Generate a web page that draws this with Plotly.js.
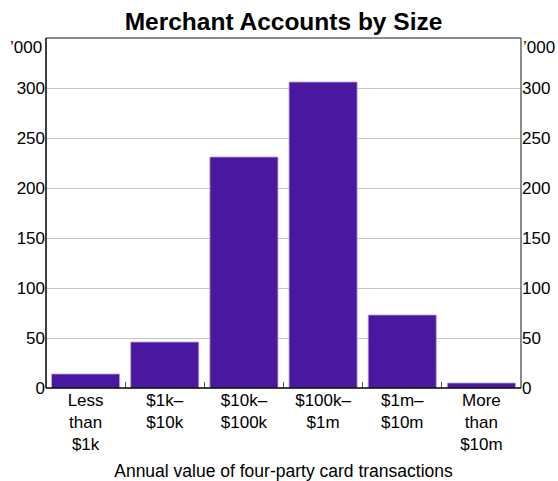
<!DOCTYPE html>
<html>
<head>
<meta charset="utf-8">
<script src="https://cdn.plot.ly/plotly-3.0.1.min.js"></script>
<style>html,body{margin:0;padding:0;background:#fff;}#chart{width:558px;height:481px;}</style>
</head>
<body>
<div id="chart"></div>
<script>
const categories = ["Less<br>than<br>$1k", "$1k–<br>$10k", "$10k–<br>$100k", "$100k–<br>$1m", "$1m–<br>$10m", "More<br>than<br>$10m"];
const accounts = [14, 46, 231, 306, 73, 5];
const yTicks = [0, 50, 100, 150, 200, 250, 300];
const unitLabel = "’000";

const font = "Arial, 'Liberation Sans', sans-serif";
const data = [
  {
    type: "bar",
    x: categories,
    y: accounts,
    marker: { color: "#4a17a0", line: { color: "#b9a8e0", width: 0.8 } },
    hoverinfo: "skip"
  },
  {
    type: "scatter", mode: "none", x: categories, y: accounts, yaxis: "y2", hoverinfo: "skip", showlegend: false
  }
];
const yCommon = {
  range: [0, 350],
  tickmode: "array",
  tickvals: yTicks,
  ticktext: yTicks.map(String),
  ticks: "",
  tickfont: { family: font, size: 17, color: "#000" },
  zeroline: false,
  fixedrange: true
};
const layout = {
  width: 558, height: 481,
  margin: { l: 46, r: 37, t: 37.5, b: 93, pad: 0 },
  paper_bgcolor: "#fff", plot_bgcolor: "#fff",
  showlegend: false,
  bargap: 0.14,
  title: { text: "<b>Merchant Accounts by Size</b>", font: { family: font, size: 24.5, color: "#000" }, xref: "paper", x: 0.5, xanchor: "center", y: 0.955, yanchor: "middle" },
  xaxis: {
    type: "category",
    tickson: "boundaries",
    ticks: "inside", ticklen: 6, tickcolor: "#555", tickwidth: 1,
    tickfont: { family: font, size: 17, color: "#000" },
    showgrid: false, zeroline: false,
    showline: false,
    title: { text: "Annual value of four-party card transactions", font: { family: font, size: 17.5, color: "#000" }, standoff: 11 },
    fixedrange: true
  },
  yaxis: Object.assign({}, yCommon, { showgrid: true, gridcolor: "#c6c6c6", gridwidth: 1, showline: false }),
  yaxis2: Object.assign({}, yCommon, { overlaying: "y", side: "right", showgrid: false, showline: false }),
  shapes: [
    { type: "line", xref: "paper", yref: "paper", x0: 0, x1: 1, y0: 1, y1: 1, line: { color: "#666", width: 1.5 } },
    { type: "line", xref: "paper", yref: "paper", x0: 1, x1: 1, y0: 0, y1: 1, line: { color: "#666", width: 1.5 } },
    { type: "line", xref: "paper", yref: "paper", x0: 0, x1: 0, y0: 0, y1: 1, line: { color: "#000", width: 1.5 } },
    { type: "line", xref: "paper", yref: "paper", x0: 0, x1: 1, y0: 0, y1: 0, line: { color: "#000", width: 1.5 } }
  ],
  annotations: [
    { text: unitLabel, xref: "paper", yref: "y", x: 0, y: 341, xanchor: "right", yanchor: "middle", xshift: -2, showarrow: false, font: { family: font, size: 17, color: "#000" } },
    { text: unitLabel, xref: "paper", yref: "y", x: 1, y: 341, xanchor: "left", yanchor: "middle", xshift: 0, showarrow: false, font: { family: font, size: 17, color: "#000" } }
  ]
};
Plotly.newPlot("chart", data, layout, { displayModeBar: false, staticPlot: true });
</script>
</body>
</html>
